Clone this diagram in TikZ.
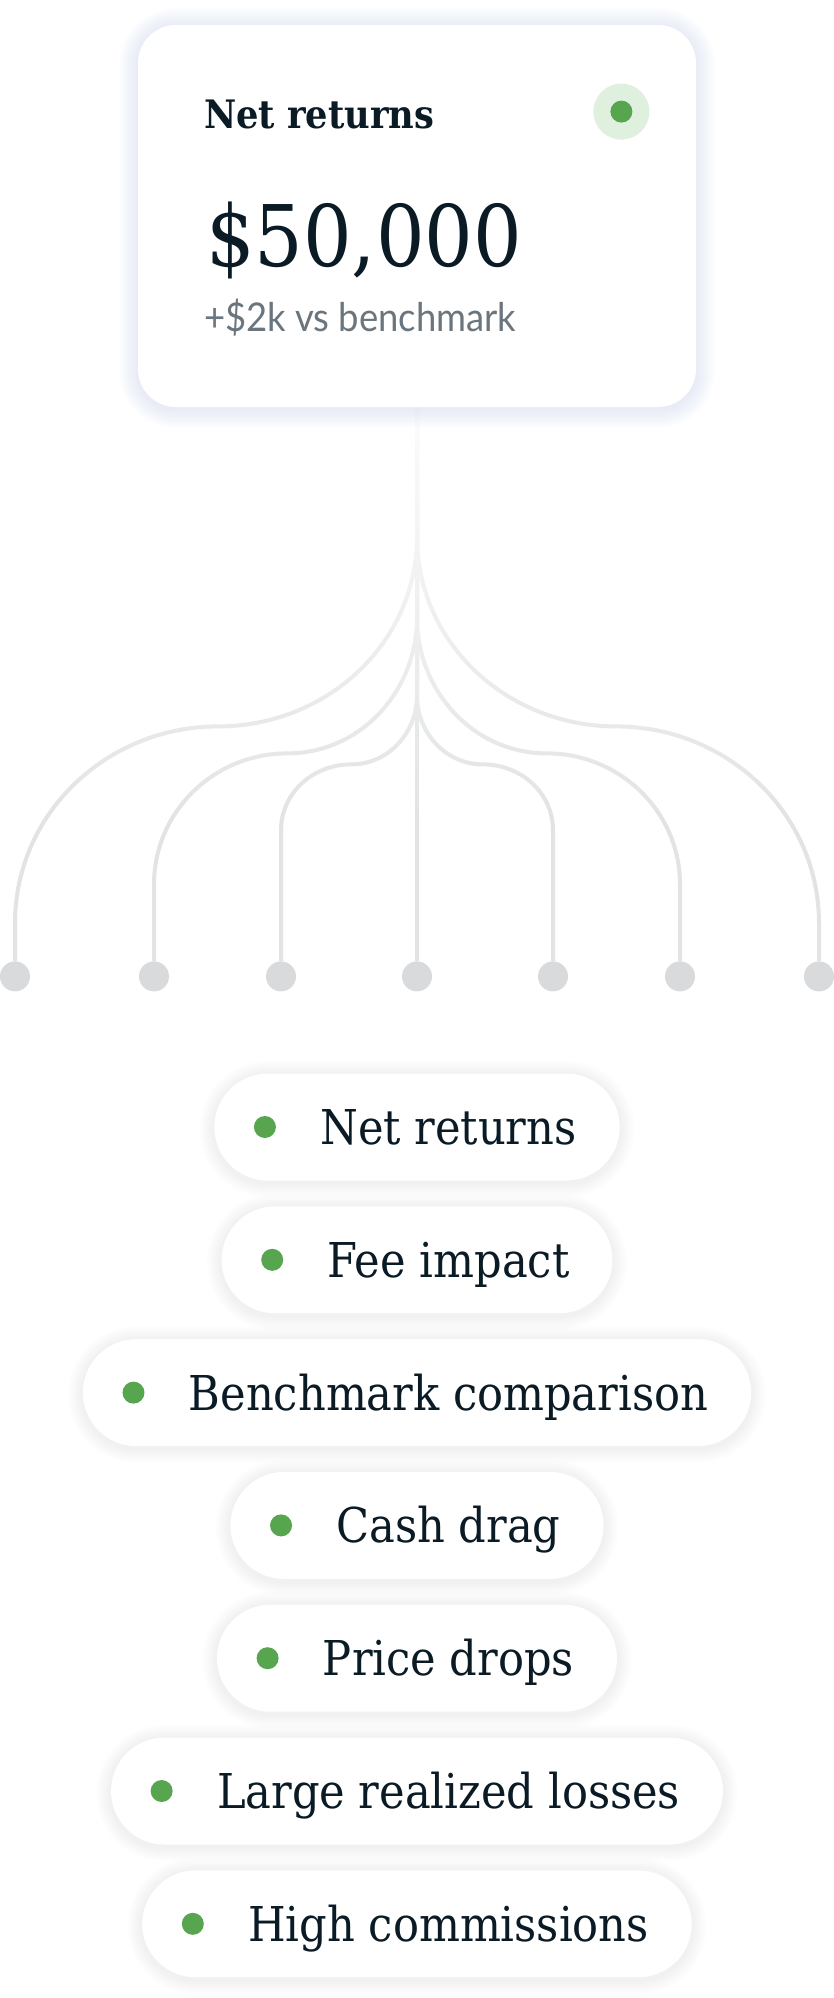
\documentclass[tikz,border=0pt]{standalone}
\usepackage{fontspec}
\newfontfamily\serifc{DejaVu Serif Condensed}
\newfontfamily\sanslat[FakeStretch=0.92]{Lato}
\usetikzlibrary{positioning, calc, backgrounds, fadings}
\definecolor{inkblue}{RGB}{10,27,38}
\definecolor{leafgreen}{RGB}{87,166,79}
\definecolor{leafhalo}{RGB}{224,240,222}
\definecolor{wiregray}{RGB}{226,227,228}
\definecolor{tipgray}{RGB}{216,218,219}
\definecolor{slategray}{RGB}{107,117,125}
\definecolor{cardglow}{RGB}{205,215,242}
\definecolor{pillglow}{RGB}{210,210,210}

\tikzfading[name=fadedown, top color=transparent!10, bottom color=transparent!100]

\tikzset{
  branch/.style={draw=wiregray, line width=2pt},
  tip/.style={circle, fill=tipgray, minimum size=15pt, inner sep=0pt},
  pill/.style={fill=white, rounded corners=26.75pt, minimum height=53.5pt,
    inner sep=0pt, text height=17.5pt, text depth=0pt, text=inkblue,
    font=\serifc\fontsize{24}{28}\selectfont,
    execute at begin node={\hspace*{53pt}},
    execute at end node={\hspace*{21.5pt}}},
  pilldot/.style={circle, fill=leafgreen, minimum size=11pt, inner sep=0pt},
}

\begin{document}
\begin{tikzpicture}[x=0.5pt, y=0.5pt]
\useasboundingbox (0,0) rectangle (834,-1998);

% summary card
\node[fill=white, rounded corners=19pt, minimum width=279pt, minimum height=191pt, inner sep=0pt] (card) at (417,-216) {};
\node[anchor=base west, inner sep=0pt, text=inkblue, font=\serifc\bfseries\fontsize{19.6}{22}\selectfont] (ttl) at ($(card.north west)+(66,-104)$) {Net returns};
\node[anchor=base west, inner sep=0pt, text=inkblue, font=\serifc\fontsize{42.5}{48}\selectfont] (amt) at ($(card.north west)+(68,-242)$) {\$50,000};
\node[anchor=base west, inner sep=0pt, text=slategray, font=\sanslat\fontsize{19.8}{22}\selectfont] (vsb) at ($(card.north west)+(66,-307)$) {+\$2k vs benchmark};
\node[circle, fill=leafhalo, minimum size=28pt, inner sep=0pt] (stat) at ($(card.north east)+(-75,-87)$) {};
\node[pilldot] (statdot) at (stat) {};

% end points of the tree
\foreach \n/\dx in {tl3/-402, tl2/-263, tl1/-136, tc/0, tr1/136, tr2/263, tr3/402}
  \node[tip] (\n) at ($(card.south)+(\dx,-569)$) {};

% factor pills
\node[pill] (p1) at (417,-1127) {Net returns};
\node[pill, below=12.5pt of p1] (p2) {Fee impact};
\node[pill, below=12.5pt of p2] (p3) {Benchmark comparison};
\node[pill, below=12.5pt of p3] (p4) {Cash drag};
\node[pill, below=12.5pt of p4] (p5) {Price drops};
\node[pill, below=12.5pt of p5] (p6) {Large realized losses};
\node[pill, below=12.5pt of p6] (p7) {High commissions};
\foreach \i in {1,...,7}
  \node[pilldot] (pd\i) at ($(p\i.west)+(51,0)$) {};

\begin{scope}[on background layer]
  \fill[white] (0,0) rectangle (834,-1998);
  % wires
  \draw[branch] (card.south) -- (tc);
  \foreach \t/\s/\mx/\my/\v/\a/\b in {tl3/129/-199/319/53/0/180, tl2/210/-130/346/92/0/180, tl1/288/-66/357/146/0/180,
                                        tr1/288/66/357/146/180/0, tr2/210/130/346/92/180/0, tr3/129/199/319/53/180/0}
    \draw[branch] (card.south) -- ++(0,-\s) to[out=-90, in=\a] ($(card.south)+(\mx,-\my)$)
      to[out=\b, in=90] ($(\t)+(0,\v)$) -- (\t);
  \fill[white, path fading=fadedown] ($(card.south)+(-417,0)$) rectangle ($(card.south)+(417,-420)$);
  % soft glows
  \foreach \g in {1,...,9}
    \fill[cardglow, opacity=0.05, rounded corners={19pt+\g*1pt}] ($(card.south west)+(-2*\g,-2*\g-2)$) rectangle ($(card.north east)+(2*\g,2*\g-2)$);
  \foreach \i in {1,...,7}
    \foreach \g in {1,...,7}
      \fill[pillglow, opacity=0.04, rounded corners={26.75pt+\g*1pt}] ($(p\i.south west)+(-2*\g,-2*\g-2)$) rectangle ($(p\i.north east)+(2*\g,2*\g-2)$);
\end{scope}
\end{tikzpicture}
\end{document}
